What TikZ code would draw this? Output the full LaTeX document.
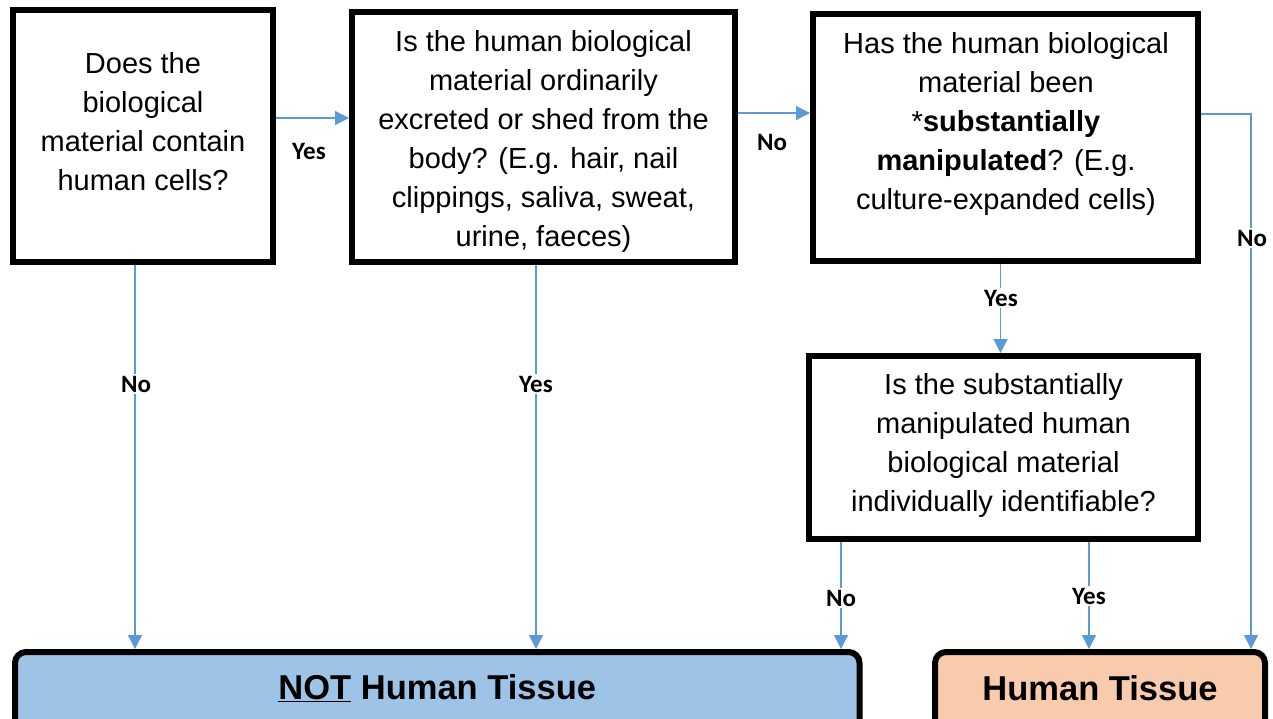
\documentclass[tikz,border=0pt]{standalone}
\usepackage{fontspec}
\setmainfont{Liberation Sans}
\newfontfamily\lblfont{Carlito}
\usetikzlibrary{arrows.meta}
\definecolor{conncol}{HTML}{5B9BD5}
\definecolor{notblue}{HTML}{9DC3E6}
\definecolor{htorange}{HTML}{F8CBAD}
\tikzset{
  qbox/.style={draw=black, line width=6pt, fill=white, inner sep=0pt},
  qtext/.style={align=center, inner sep=0pt, font=\fontsize{29}{39}\selectfont},
  endbox/.style={draw=black, line width=6pt, rounded corners=11pt, inner sep=0pt},
  endtext/.style={inner sep=0pt, font=\bfseries\fontsize{34.5}{40}\selectfont},
  conn/.style={draw=conncol, line width=1.3pt, -{Triangle[width=14pt,length=14pt]}},
  lbl/.style={fill=white, inner sep=2pt, font=\lblfont\bfseries\fontsize{25}{25}\selectfont}
}
\begin{document}
\begin{tikzpicture}[x=1pt,y=-1pt]
\useasboundingbox (0,0) rectangle (1273,719);
\clip (0,0) rectangle (1273,719);
\fill[white] (0,0) rectangle (1273,719);
% question boxes
\node[qbox, minimum width=260pt, minimum height=251.5pt] (b1) at (142.5,135.75) {};
\node[qtext] (b1t) at (143,122) {Does the\\biological\\material contain\\human cells?};
\node[qbox, minimum width=383pt, minimum height=250.5pt] (b2) at (543.5,137) {};
\node[qtext] (b2t) at (543.5,141) {Is the human biological\\material ordinarily\\excreted or shed from the\\body? (E.g. hair, nail\\clippings, saliva, sweat,\\urine, faeces)};
\node[qbox, minimum width=385pt, minimum height=247pt] (b3) at (1005.5,137.5) {};
\node[qtext] (b3t) at (1006,124) {Has the human biological\\material been\\*\textbf{substantially}\\\textbf{manipulated}? (E.g.\\culture-expanded cells)};
\node[qbox, minimum width=389pt, minimum height=183pt] (b4) at (1003.5,447.5) {};
\node[qtext] (b4t) at (1003.5,445) {Is the substantially\\manipulated human\\biological material\\individually identifiable?};
% outcome boxes
\node[endbox, fill=notblue, minimum width=844.5pt, minimum height=95pt] (nt) at (437.25,699.5) {};
\node[endtext] (ntt) at (437.25,688) {\underline{NOT} Human Tissue};
\node[endbox, fill=htorange, minimum width=330pt, minimum height=95pt] (ht) at (1100,699.5) {};
\node[endtext] (htt) at (1100,688) {Human Tissue};
% helper coordinates
\coordinate (y12) at (0,118);
\coordinate (y23) at (0,113);
\coordinate (x1) at (135,0);
\coordinate (x2) at (536,0);
\coordinate (x3) at (1000.5,0);
\coordinate (xr) at (1251,114);
\coordinate (x4a) at (841,0);
\coordinate (x4b) at (1089,0);
% connectors
\draw[conn] (b1.east |- y12) -- (b2.west |- y12);
\draw[conn] (b2.east |- y23) -- (b3.west |- y23);
\draw[conn] (b1.south -| x1) -- (x1 |- nt.north);
\draw[conn] (b2.south -| x2) -- (x2 |- nt.north);
\draw[conn] (b3.south -| x3) -- (x3 |- b4.north);
\draw[conn] (b3.east |- xr) -- (xr) -- (xr |- ht.north);
\draw[conn] (b4.south -| x4a) -- (x4a |- nt.north);
\draw[conn] (b4.south -| x4b) -- (x4b |- ht.north);
% labels
\node[lbl, fill=none] (l1) at (309,151) {Yes};
\node[lbl, fill=none] (l2) at (772,142) {No};
\node[lbl] (l3) at (136,384) {No};
\node[lbl] (l4) at (536,384) {Yes};
\node[lbl] (l5) at (1001,298) {Yes};
\node[lbl] (l6) at (1252,238) {No};
\node[lbl] (l7) at (841,598) {No};
\node[lbl] (l8) at (1089,596) {Yes};
\end{tikzpicture}
\end{document}
